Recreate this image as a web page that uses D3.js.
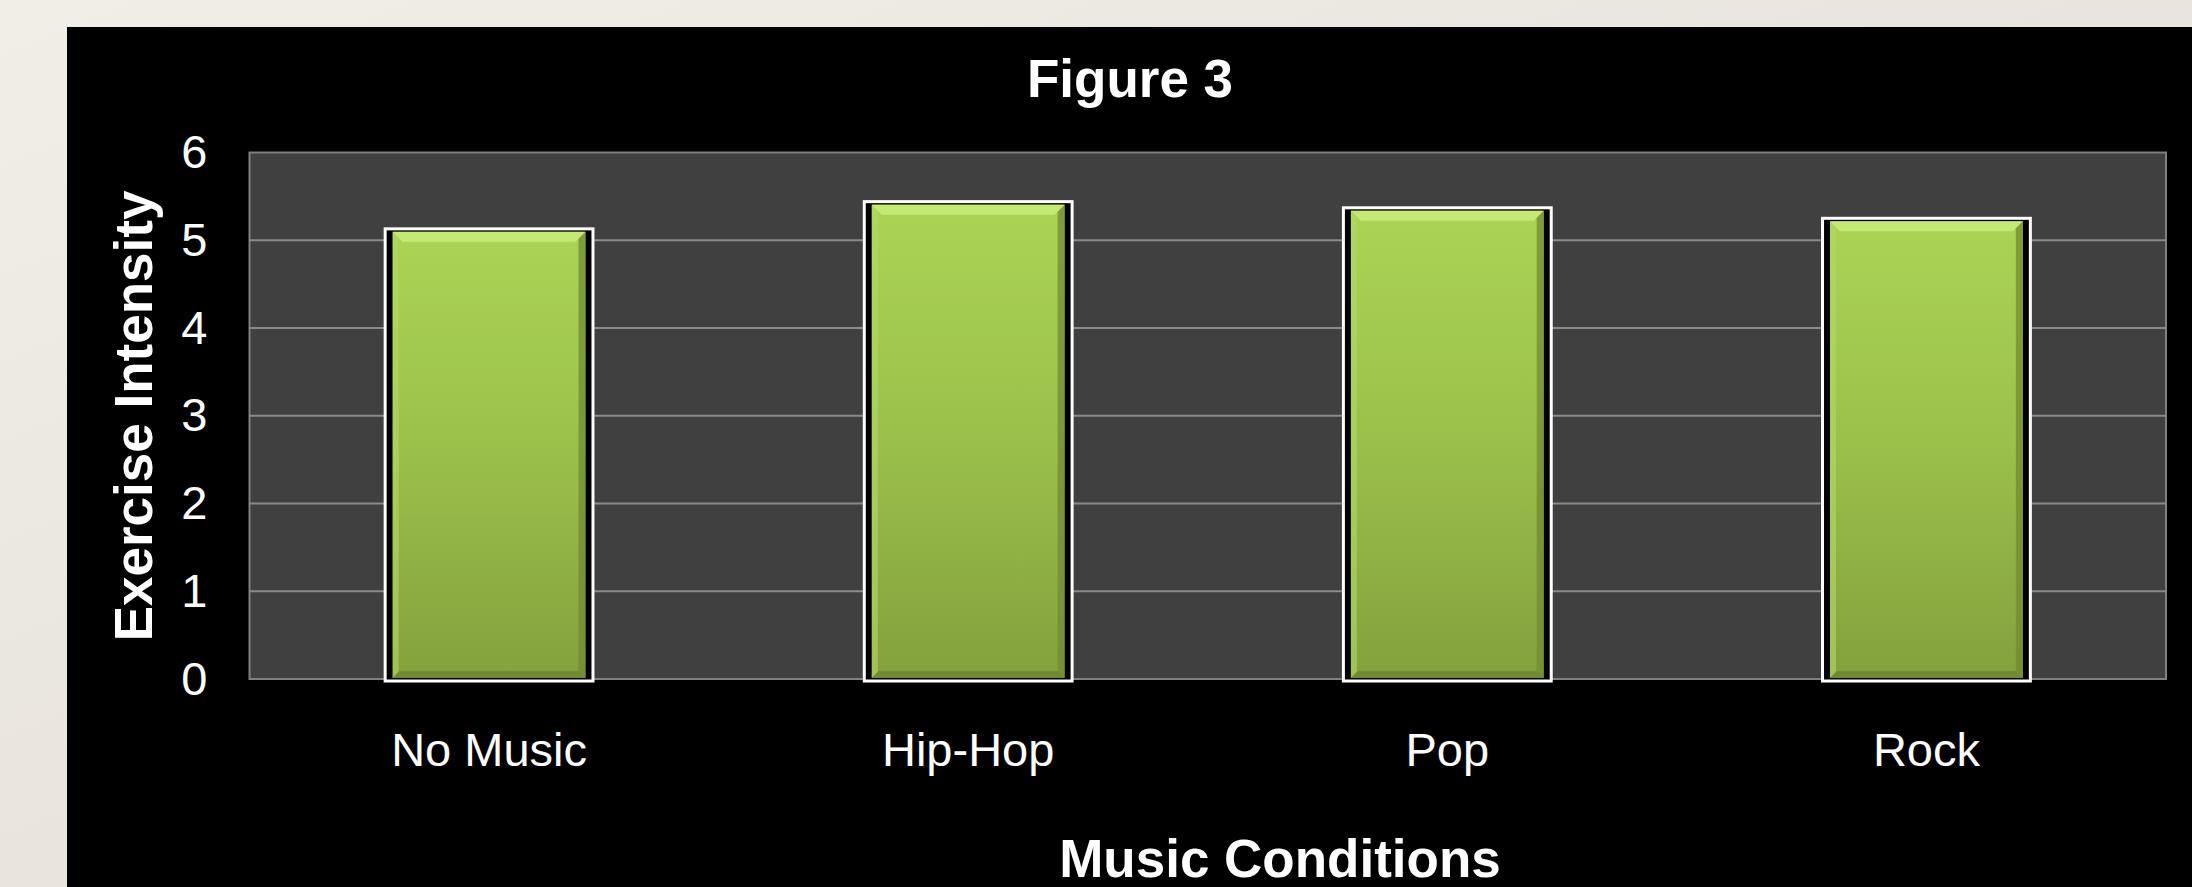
<!DOCTYPE html>
<html>
<head>
<meta charset="utf-8">
<script src="https://cdn.jsdelivr.net/npm/d3@7"></script>
<style>
  html, body { margin: 0; padding: 0; background: #ebe7e0; overflow: hidden; }
  svg { display: block; }
  text { font-family: "Liberation Sans", Arial, sans-serif; fill: #ffffff; }
</style>
</head>
<body>
<script>
// Exercise intensity by music condition
const categories = ["No Music", "Hip-Hop", "Pop", "Rock"];
const intensity = [5.13, 5.44, 5.37, 5.25];
const yTicks = [0, 1, 2, 3, 4, 5, 6];
const chartTitle = "Figure 3";
const xTitle = "Music Conditions";
const yTitle = "Exercise Intensity";

const W = 2192, H = 887;
const svg = d3.select("body").append("svg").attr("width", W).attr("height", H);
const defs = svg.append("defs");

// soft marble backdrop
const bg = defs.append("linearGradient").attr("id", "bg").attr("x1", 0).attr("y1", 0).attr("x2", 1).attr("y2", 1);
bg.append("stop").attr("offset", 0).attr("stop-color", "#f1eee8");
bg.append("stop").attr("offset", 0.5).attr("stop-color", "#e9e5dd");
bg.append("stop").attr("offset", 1).attr("stop-color", "#ece8e1");
svg.append("rect").attr("width", W).attr("height", H).attr("fill", "url(#bg)");

// black chart panel
svg.append("rect").attr("x", 67).attr("y", 27).attr("width", W - 67).attr("height", H - 27).attr("fill", "#000");

// bar fill gradient
const g1 = defs.append("linearGradient").attr("id", "barFill").attr("x1", 0).attr("y1", 0).attr("x2", 0).attr("y2", 1);
g1.append("stop").attr("offset", 0).attr("stop-color", "#abd455");
g1.append("stop").attr("offset", 0.45).attr("stop-color", "#9dc24c");
g1.append("stop").attr("offset", 1).attr("stop-color", "#84a13d");

const plot = { left: 249.5, right: 2166, top: 152.5, bottom: 679 };

const x = d3.scaleBand().domain(categories)
  .range([plot.left, plot.right])
  .paddingInner(0.56).paddingOuter(0.28);
const y = d3.scaleLinear().domain([0, 6]).range([plot.bottom, plot.top]);

// plot area
svg.append("rect")
  .attr("x", plot.left).attr("y", plot.top)
  .attr("width", plot.right - plot.left).attr("height", plot.bottom - plot.top)
  .attr("fill", "#404040").attr("stroke", "#808080").attr("stroke-width", 2);

// gridlines
svg.append("g").selectAll("line").data(yTicks.filter(t => t > 0 && t < 6)).join("line")
  .attr("x1", plot.left).attr("x2", plot.right)
  .attr("y1", d => y(d)).attr("y2", d => y(d))
  .attr("stroke", "#8a8a8a").attr("stroke-width", 2);

// bars: white outline with a dark gap around a bevelled green body
const data = categories.map((c, i) => ({ c, v: intensity[i] }));
const bars = svg.append("g").selectAll("g").data(data).join("g");

bars.append("rect")
  .attr("x", d => x(d.c) + 1.5)
  .attr("y", d => y(d.v))
  .attr("width", x.bandwidth() - 3)
  .attr("height", d => y(0) - y(d.v) + 2)
  .attr("fill", "#000").attr("stroke", "#ffffff").attr("stroke-width", 3);

const inset = 9, topInset = 3;
bars.append("rect")
  .attr("x", d => x(d.c) + inset)
  .attr("y", d => y(d.v) + topInset)
  .attr("width", x.bandwidth() - inset * 2)
  .attr("height", d => y(0) - y(d.v) - topInset - 1)
  .attr("fill", "url(#barFill)");

// bevel: top highlight
bars.append("path")
  .attr("d", d => {
    const x0 = x(d.c) + inset, x1 = x(d.c) + x.bandwidth() - inset, t = y(d.v) + topInset, b = 10;
    return `M${x0},${t}L${x1},${t}L${x1 - b},${t + b}L${x0 + b},${t + b}Z`;
  })
  .attr("fill", "#c9ec7c").attr("opacity", 0.85);
// bevel: left edge
bars.append("path")
  .attr("d", d => {
    const x0 = x(d.c) + inset, t = y(d.v) + topInset, bt = y(0) - 1, b = 6;
    return `M${x0},${t}L${x0 + b},${t + b}L${x0 + b},${bt - b}L${x0},${bt}Z`;
  })
  .attr("fill", "#b2d868").attr("opacity", 0.6);
// bevel: right edge
bars.append("path")
  .attr("d", d => {
    const x1 = x(d.c) + x.bandwidth() - inset, t = y(d.v) + topInset, bt = y(0) - 1, b = 7;
    return `M${x1},${t}L${x1 - b},${t + b}L${x1 - b},${bt - b}L${x1},${bt}Z`;
  })
  .attr("fill", "#6f8b31").attr("opacity", 0.75);
// bevel: bottom edge
bars.append("path")
  .attr("d", d => {
    const x0 = x(d.c) + inset, x1 = x(d.c) + x.bandwidth() - inset, bt = y(0) - 1, b = 7;
    return `M${x0},${bt}L${x0 + b},${bt - b}L${x1 - b},${bt - b}L${x1},${bt}Z`;
  })
  .attr("fill", "#6a8530").attr("opacity", 0.8);

// y axis
const yAxis = svg.append("g").attr("transform", `translate(${plot.left},0)`)
  .call(d3.axisLeft(y).tickValues(yTicks).tickFormat(d3.format("d")).tickSize(0).tickPadding(42));
yAxis.select(".domain").remove();
yAxis.selectAll("text")
  .attr("fill", "#fff").style("fill", "#fff")
  .attr("font-size", 47).attr("font-family", "'Liberation Sans', Arial, sans-serif");

// x axis
const xAxis = svg.append("g").attr("transform", `translate(0,${plot.bottom})`)
  .call(d3.axisBottom(x).tickSize(0));
xAxis.select(".domain").remove();
xAxis.selectAll("text")
  .attr("y", 87).attr("dy", 0)
  .attr("fill", "#fff").style("fill", "#fff")
  .attr("font-size", 47).attr("font-family", "'Liberation Sans', Arial, sans-serif");

// titles
svg.append("text").attr("x", 1130).attr("y", 97).attr("text-anchor", "middle")
  .attr("font-size", 53).attr("font-weight", "bold").text(chartTitle);
svg.append("text").attr("x", 1280).attr("y", 877).attr("text-anchor", "middle")
  .attr("font-size", 53).attr("font-weight", "bold").text(xTitle);
svg.append("text").attr("transform", "translate(152,416) rotate(-90)").attr("text-anchor", "middle")
  .attr("font-size", 53).attr("font-weight", "bold").text(yTitle);
</script>
</body>
</html>
